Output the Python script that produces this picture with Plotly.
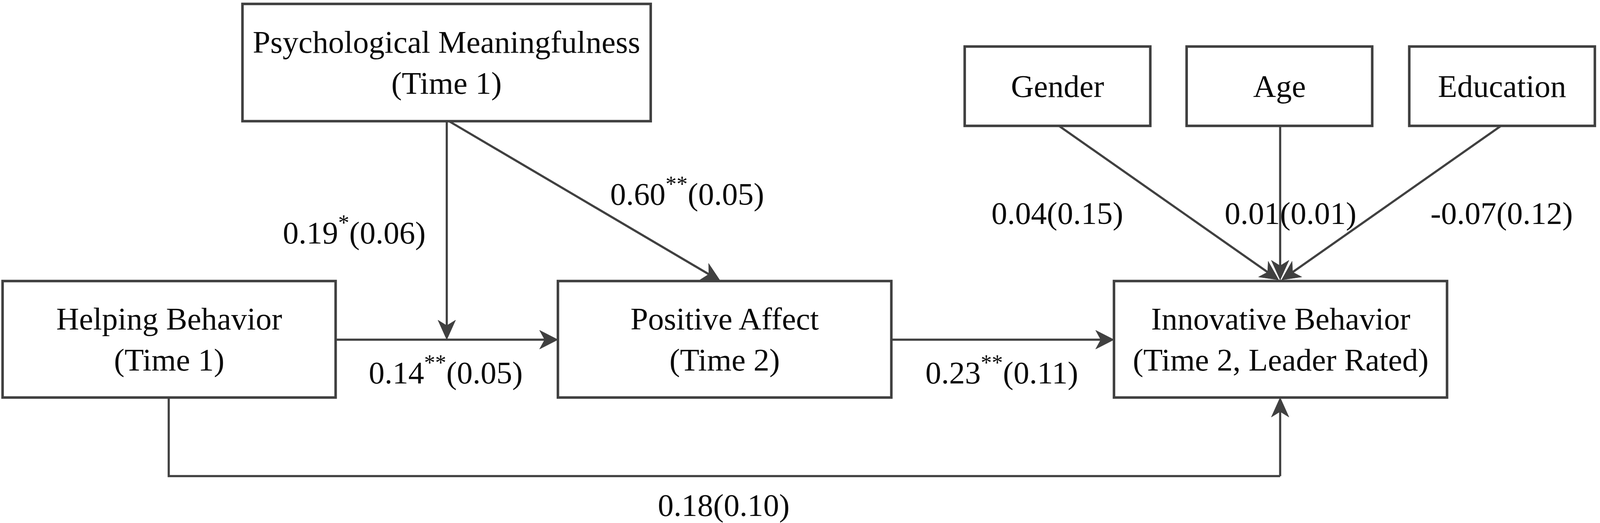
import math
import plotly.graph_objects as go

# constructs in the model
node_names = ["Psychological Meaningfulness<br>(Time 1)",
              "Helping Behavior<br>(Time 1)",
              "Positive Affect<br>(Time 2)",
              "Innovative Behavior<br>(Time 2, Leader Rated)",
              "Gender", "Age", "Education"]

# path estimates, standard errors and significance stars
path_names = ["moderation", "meaning_affect", "helping_affect", "affect_innovative",
              "helping_innovative", "gender", "age", "education"]
estimates = [0.19, 0.60, 0.14, 0.23, 0.18, 0.04, 0.01, -0.07]
std_errors = [0.06, 0.05, 0.05, 0.11, 0.10, 0.15, 0.01, 0.12]
stars = ["*", "**", "**", "**", "", "", "", ""]

# diagram geometry (canvas pixels of the reference)
W, H = 4362, 1338
box_pos = [(661, 10, 1774, 310),
           (7, 719, 915, 1017),
           (1521, 719, 2430, 1017),
           (3037, 719, 3945, 1017),
           (2630, 119, 3136, 322),
           (3235, 119, 3741, 322),
           (3842, 119, 4348, 322)]
# (tail x, tail y, head x, head y)
arrow_pos = [(1218, 310, 1218, 869),
             (1224, 310, 1964, 719),
             (915, 869, 1521, 869),
             (2430, 869, 3037, 869),
             (3490, 1218, 3490, 1017),
             (2887, 322, 3486, 716),
             (3490, 322, 3490, 716),
             (4092, 322, 3494, 716)]
label_pos = [(966, 589), (1873, 490), (1215, 947), (2731, 947),
             (1973, 1293), (2882, 546), (3518, 546), (4094, 546)]

line_col = "#404040"
text_col = "#0a0a0a"
font_name = "Liberation Serif"
fsize = 81
head_len, head_half, notch = 50, 24, 14

fig = go.Figure()
fig.add_trace(go.Scatter(x=[0, W], y=[0, H], mode="markers",
                         marker=dict(opacity=0), hoverinfo="skip", showlegend=False))

shapes = []
for (x0, y0, x1, y1) in box_pos:
    shapes.append(dict(type="rect", x0=x0, y0=y0, x1=x1, y1=y1,
                       line=dict(color=line_col, width=6.5), fillcolor="white"))

# elbow path from Helping Behavior down and across to Innovative Behavior
shapes.append(dict(type="path", path="M 460 1017 L 460 1218 L 3490 1218",
                   line=dict(color=line_col, width=5.5)))

for (tx, ty, hx, hy) in arrow_pos:
    d = math.hypot(hx - tx, hy - ty)
    ux, uy = (hx - tx) / d, (hy - ty) / d
    bx, by = hx - ux * head_len, hy - uy * head_len
    nx, ny = bx + ux * notch, by + uy * notch
    shapes.append(dict(type="line", x0=tx, y0=ty, x1=nx, y1=ny,
                       line=dict(color=line_col, width=5.5)))
    p1 = (bx - uy * head_half, by + ux * head_half)
    p2 = (bx + uy * head_half, by - ux * head_half)
    shapes.append(dict(type="path",
                       path="M %.1f %.1f L %.1f %.1f L %.1f %.1f L %.1f %.1f Z"
                            % (hx, hy, p1[0], p1[1], nx, ny, p2[0], p2[1]),
                       line=dict(color=line_col, width=1), fillcolor=line_col))

annotations = []
for (name, (x0, y0, x1, y1)) in zip(node_names, box_pos):
    annotations.append(dict(x=(x0 + x1) / 2, y=(y0 + y1) / 2, text=name, showarrow=False,
                            xanchor="center", yanchor="middle",
                            font=dict(family=font_name, size=fsize, color=text_col)))

for est, se, st, (lx, ly) in zip(estimates, std_errors, stars, label_pos):
    txt = "%.2f" % est
    if st:
        txt += "<sup>" + st + "</sup>"
    txt += "(%.2f)" % se
    annotations.append(dict(x=lx, y=ly, text=txt, showarrow=False,
                            xanchor="center", yanchor="middle",
                            font=dict(family=font_name, size=fsize, color=text_col)))

fig.update_layout(
    autosize=True,
    margin=dict(l=0, r=0, t=0, b=0),
    paper_bgcolor="white", plot_bgcolor="white",
    xaxis=dict(range=[0, W], visible=False, fixedrange=True),
    yaxis=dict(range=[H, 0], visible=False, fixedrange=True),
    shapes=shapes, annotations=annotations,
    showlegend=False,
)

fig.write_html("out.html", config=dict(responsive=True, displayModeBar=False),
               default_width="100vw", default_height="100vh",
               post_script="document.body.style.margin='0';document.body.style.overflow='hidden';")
